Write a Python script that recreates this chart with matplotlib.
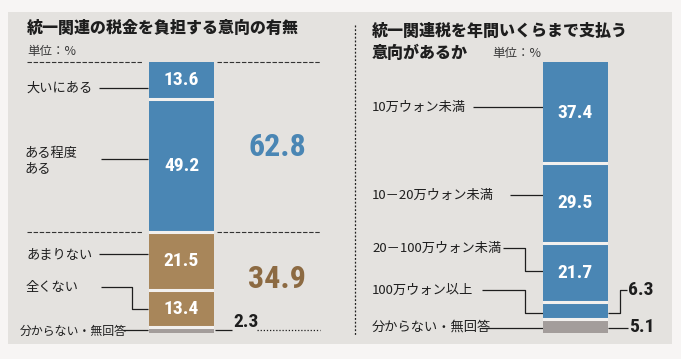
import matplotlib
matplotlib.use("Agg")
import matplotlib.pyplot as plt
from matplotlib.patches import Rectangle
import numpy as np

# ---------------- data ----------------
left_title = "統一関連の税金を負担する意向の有無"
left_cats = ["大いにある", "ある程度\nある", "あまりない", "全くない", "分からない・無回答"]
left_vals = [13.6, 49.2, 21.5, 13.4, 2.3]
left_groups = [62.8, 34.9]

right_title = ["統一関連税を年間いくらまで支払う", "意向があるか"]
right_cats = ["10万ウォン未満", "10－20万ウォン未満", "20－100万ウォン未満", "100万ウォン以上", "分からない・無回答"]
right_vals = [37.4, 29.5, 21.7, 6.3, 5.1]
unit_label = "単位：%"

# ---------------- style ----------------
BLUE = "#4a86b4"
TAN = "#a8865a"
GRAY = "#a39d9b"
PANEL = "#e4e2df"
OUTER = "#f7f5f4"
GAP = "#f2f0ee"
INK = "#1e1e1e"
left_colors = [BLUE, BLUE, TAN, TAN, GRAY]
right_colors = [BLUE, BLUE, BLUE, BLUE, GRAY]

JP = ["Noto Sans CJK JP", "DejaVu Sans"]
NUM = ["Roboto Condensed", "Liberation Sans Narrow", "Arial Narrow", "Liberation Sans", "DejaVu Sans"]
BAR_FS = 14
BIG_FS = 23
TITLE_W = 900

W, H = 681, 359
fig = plt.figure(figsize=(W / 100, H / 100), dpi=100, facecolor=OUTER)

ov = fig.add_axes([0, 0, 1, 1], zorder=0)
ov.set_xlim(0, W)
ov.set_ylim(H, 0)
ov.axis("off")
ov.add_patch(Rectangle((8, 12), 664, 332, facecolor=PANEL, edgecolor="none", zorder=0))


def bar_axes(x0, x1, y0, y1):
    ax = fig.add_axes([x0 / W, 1 - y1 / H, (x1 - x0) / W, (y1 - y0) / H], zorder=2)
    ax.set_xlim(-0.5, 0.5)
    ax.set_ylim(100, 0)
    ax.axis("off")
    return ax


def stack(ax, vals, colors):
    cum = np.concatenate([[0], np.cumsum(vals)])
    for v, b, c in zip(vals, cum[:-1], colors):
        ax.bar(0, v, bottom=b, width=1, color=c, edgecolor="none")
    for b in cum[1:-1]:
        ax.axhline(b, color=GAP, lw=2.2)
    return cum


def d2p(ax, v):
    disp = ax.transData.transform((0, v))
    return ov.transData.inverted().transform(disp)[1]


def line(pts, **kw):
    xs, ys = zip(*pts)
    kw.setdefault("color", INK)
    kw.setdefault("lw", 0.9)
    ov.plot(xs, ys, solid_capstyle="butt", **kw)


# ---------------- left chart ----------------
axL = bar_axes(149, 214, 62, 333)
cumL = stack(axL, left_vals, left_colors)
for v, b in zip(left_vals, cumL[:-1]):
    if v > 5:
        axL.text(0, b + v / 2, f"{v}", color="white", ha="center", va="center",
                 fontsize=BAR_FS, fontweight="bold", family=NUM)

ov.text(27, 28, left_title, fontsize=11.5, fontweight=TITLE_W, family=JP, color=INK, va="center")
ov.text(27, 52, unit_label, fontsize=9, family=JP, color="#3a3a3a", va="center")

for gv in [0, left_groups[0]]:
    yp = d2p(axL, gv)
    line([(27, yp), (143, yp)], ls=(0, (4, 1.5)), lw=0.8, color="#333333")
    line([(217, yp), (320, yp)], ls=(0, (4, 1.5)), lw=0.8, color="#333333")

gcol = [BLUE, "#8c6a42"]
gstart = 0
for g, c in zip(left_groups, gcol):
    yc = d2p(axL, gstart + g / 2)
    ov.text(277, yc, f"{g}", color=c, fontsize=BIG_FS, fontweight="bold", family=NUM,
            ha="center", va="center")
    gstart += g

centers = [d2p(axL, b + v / 2) for v, b in zip(left_vals, cumL[:-1])]
ov.text(26, 88, left_cats[0], fontsize=9.5, family=JP, color=INK, va="center")
line([(99, 88), (148, 88)])
ov.text(24, 161, left_cats[1], fontsize=9.5, family=JP, color=INK, va="center", linespacing=1.2)
line([(101, 159), (148, 159)])
ov.text(26, 255, left_cats[2], fontsize=9.5, family=JP, color=INK, va="center")
line([(99, 254), (148, 254)])
ov.text(26, 287, left_cats[3], fontsize=9.5, family=JP, color=INK, va="center")
line([(101, 287), (132, 287), (132, centers[3]), (148, centers[3])])
ov.text(20, 331, left_cats[4], fontsize=8.6, family=JP, color=INK, va="center")
line([(123, centers[4]), (148, centers[4])])
line([(215, centers[4]), (232, centers[4])])
ov.text(233, centers[4] + 1.5, f"{left_vals[4]}", fontsize=BAR_FS, fontweight="bold", family=NUM,
        color=INK, va="bottom")
line([(257, centers[4]), (320, centers[4])], ls=(0, (1, 1.5)), lw=0.9)

line([(355, 25), (355, 335)], ls=(0, (1.5, 1.5)), lw=0.9)

# ---------------- right chart ----------------
axR = bar_axes(543, 608, 62, 333)
cumR = stack(axR, right_vals, right_colors)
for v, b in zip(right_vals, cumR[:-1]):
    if v > 10:
        axR.text(0, b + v / 2, f"{v}", color="white", ha="center", va="center",
                 fontsize=BAR_FS, fontweight="bold", family=NUM)

ov.text(372, 31, right_title[0], fontsize=11.5, fontweight=TITLE_W, family=JP, color=INK, va="center")
ov.text(372, 53, right_title[1], fontsize=11.5, fontweight=TITLE_W, family=JP, color=INK, va="center")
ov.text(492, 54, unit_label, fontsize=9, family=JP, color="#3a3a3a", va="center")

cR = [d2p(axR, b + v / 2) for v, b in zip(right_vals, cumR[:-1])]
ov.text(372, 107, right_cats[0], fontsize=9.5, family=JP, color=INK, va="center")
line([(473, 107), (543, 107)])
ov.text(372, 195, right_cats[1], fontsize=9.5, family=JP, color=INK, va="center")
line([(510, 195), (543, 195)])
ov.text(372, 248, right_cats[2], fontsize=9.5, family=JP, color=INK, va="center")
line([(503, 248), (525, 248), (525, cR[2] - 2), (543, cR[2] - 2)])
ov.text(372, 290, right_cats[3], fontsize=9.5, family=JP, color=INK, va="center")
line([(482, 290), (525, 290), (525, cR[3] + 2), (543, cR[3] + 2)])
line([(608, cR[3] + 2), (620, cR[3] + 2), (620, 290), (627, 290)])
ov.text(628, 290, f"{right_vals[3]}", fontsize=BAR_FS, fontweight="bold", family=NUM, color=INK, va="center")
ov.text(372, 327, right_cats[4], fontsize=9.5, family=JP, color=INK, va="center")
line([(481, cR[4] + 2), (543, cR[4] + 2)])
line([(608, cR[4] + 2), (628, cR[4] + 2)])
ov.text(629, 327, f"{right_vals[4]}", fontsize=BAR_FS, fontweight="bold", family=NUM, color=INK, va="center")

fig.savefig("out.png", dpi=100, facecolor=OUTER)
